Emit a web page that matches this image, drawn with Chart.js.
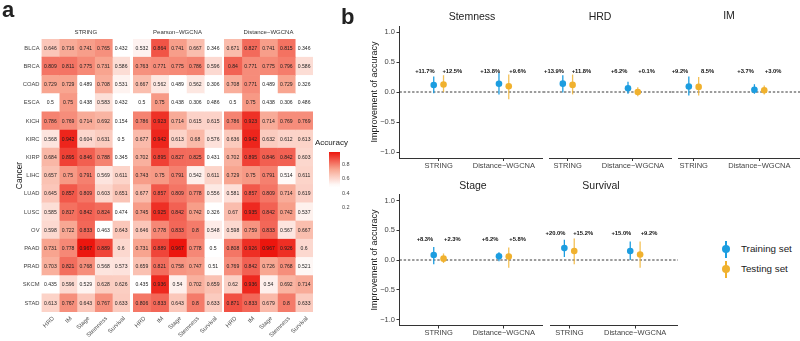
<!DOCTYPE html>
<html lang="en">
<head>
<meta charset="UTF-8">
<title>Accuracy heatmap and improvement</title>
<script src="https://cdn.jsdelivr.net/npm/chart.js"></script>
<style>
  html, body { margin: 0; padding: 0; background: #fff; overflow: hidden; }
  body { width: 800px; height: 341px; position: relative; font-family: "Liberation Sans", Arial, Helvetica, sans-serif; color: #222; }
  .box { position: absolute; }
  .txt { position: absolute; white-space: nowrap; line-height: 1; }
  .dot { position: absolute; border-radius: 50%; }
  .bar { position: absolute; width: 1.4px; }
</style>
</head>
<body>
<script>
// ---- panel a: accuracy heatmaps ----
const cancers = ['BLCA','BRCA','COAD','ESCA','KICH','KIRC','KIRP','LIHC','LUAD','LUSC','OV','PAAD','PRAD','SKCM','STAD'];
const traits = ['HRD','IM','Stage','Stemness','Survival'];
const accString = [
  [0.646,0.716,0.741,0.765,0.432],[0.809,0.811,0.775,0.731,0.586],[0.729,0.729,0.489,0.708,0.531],
  [0.5,0.75,0.438,0.583,0.432],[0.786,0.769,0.714,0.692,0.154],[0.568,0.942,0.604,0.631,0.5],
  [0.684,0.895,0.846,0.788,0.345],[0.657,0.75,0.791,0.569,0.611],[0.645,0.857,0.809,0.603,0.651],
  [0.585,0.817,0.842,0.824,0.474],[0.598,0.722,0.833,0.463,0.643],[0.731,0.778,0.967,0.889,0.6],
  [0.703,0.821,0.768,0.568,0.573],[0.435,0.596,0.529,0.628,0.626],[0.613,0.767,0.643,0.767,0.633]];
const accPearson = [
  [0.532,0.864,0.741,0.667,0.346],[0.763,0.771,0.775,0.786,0.596],[0.667,0.562,0.489,0.562,0.306],
  [0.5,0.75,0.438,0.306,0.486],[0.786,0.923,0.714,0.615,0.615],[0.677,0.942,0.613,0.68,0.576],
  [0.702,0.895,0.827,0.825,0.431],[0.743,0.75,0.791,0.542,0.611],[0.677,0.857,0.809,0.778,0.556],
  [0.745,0.925,0.842,0.742,0.326],[0.646,0.778,0.833,0.8,0.548],[0.731,0.889,0.967,0.778,0.5],
  [0.659,0.821,0.758,0.747,0.51],[0.435,0.936,0.54,0.702,0.659],[0.806,0.833,0.643,0.8,0.633]];
const accDistance = [
  [0.671,0.827,0.741,0.815,0.346],[0.84,0.771,0.775,0.796,0.586],[0.708,0.771,0.489,0.729,0.326],
  [0.5,0.75,0.438,0.306,0.486],[0.786,0.923,0.714,0.769,0.769],[0.636,0.942,0.632,0.612,0.613],
  [0.702,0.895,0.846,0.842,0.603],[0.729,0.75,0.791,0.514,0.611],[0.581,0.857,0.809,0.714,0.619],
  [0.67,0.935,0.842,0.742,0.537],[0.598,0.759,0.833,0.567,0.667],[0.808,0.926,0.967,0.926,0.6],
  [0.769,0.842,0.726,0.768,0.521],[0.62,0.936,0.54,0.692,0.714],[0.871,0.833,0.679,0.8,0.633]];
const legendTicks = [0.2, 0.4, 0.6, 0.8];

// ---- panel b: improvement of accuracy (per facet: [STRING, Distance-WGCNA]) ----
const facets = ['Stemness','HRD','IM','Stage','Survival'];
const methods = ['STRING','Distance\u2212WGCNA'];
const trainMean = [[0.117,0.138],[0.139,0.062],[0.092,0.037],[0.083,0.062],[0.200,0.150]];
const trainLow  = [[-0.02,-0.04],[-0.01,-0.03],[-0.06,-0.03],[-0.07,-0.02],[0.05,0.0]];
const trainHigh = [[0.26,0.32],[0.28,0.17],[0.26,0.13],[0.22,0.13],[0.34,0.31]];
const testMean  = [[0.125,0.096],[0.118,0.001],[0.085,0.030],[0.023,0.058],[0.152,0.092]];
const testLow   = [[0.0,-0.12],[-0.04,-0.07],[-0.06,-0.04],[-0.05,-0.13],[-0.07,-0.13]];
const testHigh  = [[0.28,0.29],[0.29,0.08],[0.25,0.11],[0.11,0.21],[0.36,0.31]];
const trainTag = [['+11.7%','+13.8%'],['+13.9%','+6.2%'],['+9.2%','+3.7%'],['+8.3%','+6.2%'],['+20.0%','+15.0%']];
const testTag  = [['+12.5%','+9.6%'],['+11.8%','+0.1%'],['8.5%','+3.0%'],['+2.3%','+5.8%'],['+15.2%','+9.2%']];
const tagY = [0.35, 0.35, 0.35, 0.35, 0.44];
const yTicks = [-1, -0.5, 0, 0.5, 1];

const FONT = '"Liberation Sans", Arial, Helvetica, sans-serif';
Chart.defaults.font.family = FONT;
const BLUE = '#1c9de0', ORANGE = '#f0b12e';

// white below 0.5, salmon in the middle, red at the top
function heatColor(v) {
  const lo = 0.5, mid = 0.73, hi = 0.967;
  const w = [255,255,255], m = [248,165,144], r = [236,22,14];
  let a, b, t;
  if (v <= lo) return 'rgb(255,255,255)';
  if (v < mid) { a = w; b = m; t = (v - lo) / (mid - lo); }
  else { a = m; b = r; t = Math.min(1, (v - mid) / (hi - mid)); }
  const c = a.map((x, k) => Math.round(x + (b[k] - x) * t));
  return `rgb(${c[0]},${c[1]},${c[2]})`;
}

function addCanvas(left, top, w, h) {
  const d = document.createElement('div');
  d.className = 'box';
  d.style.cssText = `left:${left}px;top:${top}px;width:${w}px;height:${h}px`;
  const c = document.createElement('canvas');
  c.width = w; c.height = h;
  d.appendChild(c);
  document.body.appendChild(d);
  return c;
}

// y is the baseline; align left or center
function txt(s, x, y, size, opt = {}) {
  const d = document.createElement('div');
  d.className = 'txt';
  d.textContent = s;
  d.style.left = x + 'px';
  d.style.top = (y - 0.8465 * size) + 'px';
  d.style.fontSize = size + 'px';
  if (opt.bold) d.style.fontWeight = 'bold';
  if (opt.color) d.style.color = opt.color;
  if (opt.center) d.style.transform = 'translateX(-50%)';
  document.body.appendChild(d);
}

const cellText = {
  id: 'cellText',
  afterDatasetsDraw(chart) {
    const ctx = chart.ctx;
    ctx.save();
    ctx.font = '5.1px ' + FONT;
    ctx.fillStyle = '#1e1e1e';
    ctx.textAlign = 'center';
    ctx.textBaseline = 'middle';
    chart.data.datasets.forEach((ds, j) => {
      chart.getDatasetMeta(j).data.forEach((el, i) => {
        ctx.fillText(String(ds.values[i]), (el.x + el.base) / 2, el.y + 0.3);
      });
    });
    ctx.restore();
  }
};

function heatmap(canvas, matrix, showY, padLeft) {
  return new Chart(canvas, {
    type: 'bar',
    data: {
      labels: cancers,
      datasets: traits.map((t, j) => ({
        label: t,
        data: cancers.map(() => [j, j + 1]),
        values: matrix.map(row => row[j]),
        backgroundColor: matrix.map(row => heatColor(row[j])),
        borderWidth: 0,
        grouped: false,
        barPercentage: 1,
        categoryPercentage: 1
      }))
    },
    options: {
      indexAxis: 'y',
      responsive: false,
      animation: false,
      layout: { padding: { left: padLeft, top: 39, right: 0, bottom: 0 }, autoPadding: false },
      plugins: { legend: { display: false }, tooltip: { enabled: false } },
      scales: {
        x: {
          type: 'linear', min: 0, max: traits.length,
          afterBuildTicks: s => { s.ticks = traits.map((t, j) => ({ value: j + 0.5 })); },
          afterFit: s => { s.height = 29; },
          ticks: { autoSkip: false, minRotation: 45, maxRotation: 45, padding: 3, labelOffset: 3, color: '#555', font: { size: 6 },
                   callback: v => traits[v - 0.5] },
          grid: { display: false, drawTicks: false },
          border: { display: false }
        },
        y: {
          display: showY,
          afterFit: s => { if (showY) s.width = 41.5; },
          ticks: { color: '#444', font: { size: 5.8 }, padding: 2 },
          grid: { display: false, drawTicks: false },
          border: { display: false },
          title: { display: true, text: 'Cancer', color: '#222', font: { size: 8.5 }, padding: { top: 15, bottom: 0 } }
        }
      }
    },
    plugins: [cellText]
  });
}

heatmap(addCanvas(0, 0, 130, 341), accString, true, 0);
heatmap(addCanvas(126, 0, 96, 341), accPearson, false, 7);
heatmap(addCanvas(217, 0, 96, 341), accDistance, false, 7);

txt('STRING', 85.75, 33.8, 6, { center: true, color: '#333' });
txt('Pearson\u2212WGCNA', 177.5, 33.8, 6, { center: true, color: '#333' });
txt('Distance\u2212WGCNA', 268.5, 33.8, 6, { center: true, color: '#333' });

// colour key
const allAcc = accString.concat(accPearson, accDistance).flat();
const accMin = Math.min(...allAcc), accMax = Math.max(...allAcc);
new Chart(addCanvas(329, 146, 35, 71), {
  type: 'bar',
  data: {
    labels: ['Accuracy'],
    datasets: [{
      data: [[accMin, accMax]],
      barPercentage: 1, categoryPercentage: 1, borderWidth: 0,
      backgroundColor: ctx => {
        const a = ctx.chart.chartArea;
        if (!a) return '#fff';
        const g = ctx.chart.ctx.createLinearGradient(0, a.bottom, 0, a.top);
        for (let k = 0; k <= 20; k++) g.addColorStop(k / 20, heatColor(accMin + (accMax - accMin) * k / 20));
        return g;
      }
    }]
  },
  options: {
    responsive: false, animation: false,
    layout: { padding: { top: 6, bottom: 6, left: 0, right: 0 }, autoPadding: false },
    plugins: { legend: { display: false }, tooltip: { enabled: false } },
    scales: {
      x: { display: false },
      y: {
        position: 'right', min: accMin, max: accMax,
        afterBuildTicks: s => { s.ticks = legendTicks.map(v => ({ value: v })); },
        afterFit: s => { s.width = 24; },
        ticks: { color: '#444', font: { size: 5.5 }, padding: 2, callback: v => v.toFixed(1) },
        grid: { display: false, drawTicks: false },
        border: { display: false }
      }
    }
  }
});
txt('Accuracy', 315, 145.5, 8);

// ---- panel b ----
const dodge = 0.075, tagShift = 0.21;

const pointRange = {
  id: 'pointRange',
  beforeDatasetsDraw(chart) {
    const { ctx, chartArea: a, scales: { x, y } } = chart;
    ctx.save();
    const y0 = y.getPixelForValue(0);
    ctx.setLineDash([2.4, 1.8]);
    ctx.strokeStyle = '#222';
    ctx.lineWidth = 0.9;
    ctx.beginPath();
    ctx.moveTo(chart.options.scales.y.display ? a.left : 0, y0);
    ctx.lineTo(a.right, y0);
    ctx.stroke();
    ctx.setLineDash([]);
    chart.data.datasets.forEach(ds => {
      ctx.strokeStyle = ds.rangeColor;
      ctx.lineWidth = 1.3;
      ds.data.forEach((p, i) => {
        const px = x.getPixelForValue(p.x);
        ctx.beginPath();
        ctx.moveTo(px, y.getPixelForValue(ds.low[i]));
        ctx.lineTo(px, y.getPixelForValue(ds.high[i]));
        ctx.stroke();
      });
    });
    ctx.restore();
  },
  afterDatasetsDraw(chart) {
    const { ctx, scales: { x, y } } = chart;
    ctx.save();
    ctx.font = 'bold 5.8px ' + FONT;
    ctx.fillStyle = '#111';
    ctx.textAlign = 'center';
    ctx.textBaseline = 'middle';
    chart.data.datasets.forEach(ds => {
      ds.tags.forEach((t, i) => {
        ctx.fillText(t, x.getPixelForValue(i + 1 + ds.tagShift), y.getPixelForValue(ds.tagY));
      });
    });
    ctx.restore();
  }
};

function facetChart(f, box) {
  const axisLine = { display: true, color: '#333', width: 1 };
  const tickMarks = { display: true, drawOnChartArea: false, drawTicks: true, tickLength: 3, color: '#333' };
  return new Chart(addCanvas(box.left, box.top, box.w, box.h), {
    type: 'scatter',
    data: {
      datasets: [
        { label: 'Training set', data: methods.map((m, i) => ({ x: i + 1 - dodge, y: trainMean[f][i] })),
          low: trainLow[f], high: trainHigh[f], tags: trainTag[f], tagShift: -tagShift, tagY: tagY[f],
          rangeColor: BLUE, backgroundColor: BLUE, borderWidth: 0, pointRadius: 3.3 },
        { label: 'Testing set', data: methods.map((m, i) => ({ x: i + 1 + dodge, y: testMean[f][i] })),
          low: testLow[f], high: testHigh[f], tags: testTag[f], tagShift: tagShift, tagY: tagY[f],
          rangeColor: 'rgba(240,177,46,0.8)', backgroundColor: ORANGE, borderWidth: 0, pointRadius: 3.3 }
      ]
    },
    options: {
      responsive: false, animation: false,
      layout: { padding: { left: box.padLeft, top: box.padTop, right: 0, bottom: 0 }, autoPadding: false },
      plugins: { legend: { display: false }, tooltip: { enabled: false } },
      scales: {
        x: {
          type: 'linear', min: box.xmin, max: box.xmax,
          afterBuildTicks: s => { s.ticks = methods.map((m, i) => ({ value: i + 1 })); },
          afterFit: s => { s.height = box.xh; },
          ticks: { autoSkip: false, maxRotation: 0, padding: 0, color: '#444', font: { size: 7.5 }, callback: v => methods[v - 1] },
          grid: tickMarks, border: axisLine
        },
        y: {
          display: box.showY, min: -1.1, max: 1.1,
          afterBuildTicks: s => { s.ticks = yTicks.map(v => ({ value: v })); },
          afterFit: s => { if (box.showY) s.width = 35.5; },
          ticks: { color: '#444', font: { size: 7.5 }, padding: 1.5,
                   callback: v => (v < 0 ? '\u2212' : '') + Math.abs(v).toFixed(1) },
          grid: tickMarks, border: axisLine,
          title: { display: true, text: 'Improvement of accuracy', color: '#222', font: { size: 9 }, padding: { top: 5, bottom: 0 } }
        }
      }
    },
    plugins: [pointRange]
  });
}

facetChart(0, { left: 364, top: 20, w: 179, h: 154, padLeft: 0, padTop: 6, xh: 16, showY: true, xmin: 0.4, xmax: 2.6 });
facetChart(1, { left: 543, top: 20, w: 129, h: 154, padLeft: 6, padTop: 6, xh: 16, showY: false, xmin: 0.713, xmax: 2.6 });
facetChart(2, { left: 672, top: 20, w: 128, h: 154, padLeft: 6, padTop: 6, xh: 16, showY: false, xmin: 0.76, xmax: 2.62 });
facetChart(3, { left: 364, top: 188, w: 179, h: 154, padLeft: 0, padTop: 6.5, xh: 16.5, showY: true, xmin: 0.4, xmax: 2.6 });
facetChart(4, { left: 543, top: 188, w: 135, h: 154, padLeft: 7, padTop: 6.5, xh: 16.5, showY: false, xmin: 0.707, xmax: 2.65 });

txt(facets[0], 472, 20, 10.5, { center: true });
txt(facets[1], 600, 20, 10.5, { center: true });
txt(facets[2], 729, 19, 10.5, { center: true });
txt(facets[3], 473, 189, 10.5, { center: true });
txt(facets[4], 601, 189, 10.5, { center: true });

txt('a', 2, 18, 22, { bold: true });
txt('b', 341, 25, 22, { bold: true });

// legend for panel b
function legendKey(y, color, label) {
  const b = document.createElement('div');
  b.className = 'bar';
  b.style.cssText += `left:${725.3}px;top:${y - 8.5}px;height:17px;background:${color}`;
  document.body.appendChild(b);
  const d = document.createElement('div');
  d.className = 'dot';
  d.style.cssText += `left:${721.8}px;top:${y - 4.2}px;width:8.4px;height:8.4px;background:${color}`;
  document.body.appendChild(d);
  txt(label, 741, y + 3.6, 9.8);
}
legendKey(249, BLUE, 'Training set');
legendKey(269, ORANGE, 'Testing set');
</script>
</body>
</html>
